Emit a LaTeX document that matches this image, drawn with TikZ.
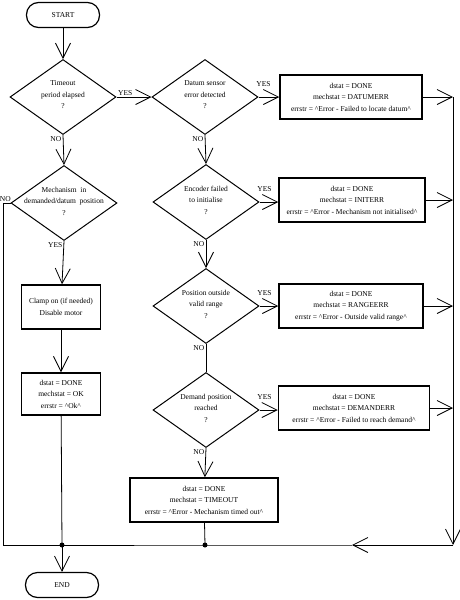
\documentclass[tikz,border=0pt]{standalone}
\usepackage{fontspec}
\setmainfont{Liberation Serif}
\usetikzlibrary{shapes.geometric,arrows.meta}

\begin{document}
\begin{tikzpicture}[x=1pt, y=-1pt,
  txt/.style={align=center, font=\fontsize{7.5pt}{11.5pt}\selectfont},
  decision/.style={draw, diamond, line width=1pt, aspect=1.41, minimum width=106pt, minimum height=75pt, inner sep=0pt},
  action/.style={draw, rectangle, line width=1.5pt, minimum height=44pt, txt},
  terminal/.style={draw, rectangle, rounded corners=12pt, line width=1.2pt, minimum width=73pt, minimum height=25pt, txt},
  lbl/.style={font=\fontsize{7.5pt}{9pt}\selectfont, inner sep=1.5pt},
  yes/.style={lbl, anchor=south, xshift=5pt, yshift=9pt},
  link/.style={line width=.8pt},
  arr/.style={link, -{Straight Barb[length=15pt, width=15pt, line width=.8pt]}},
  junction/.style={circle, fill, inner sep=0pt, minimum size=5pt}]
\useasboundingbox (0, 0) rectangle (460, 600);

\newcommand\question[3]{%
\node (#1) at (#2) [decision] {};%
\node at ([yshift=2pt]#1.center) [txt] {#3};%
}
\newcommand\caret{\textasciicircum}

\node (start) at (63, 15) [terminal] {START};
\question{timeout}{63, 97}{Timeout\\period elapsed\\?}
\question{inpos}{64, 203}{Mechanism\ \ in\\demanded/datum\ \ position\\?}
\node (clamp) at (61, 307) [action, minimum width=79pt] {Clamp on (if needed)\\Disable motor};
\node (ok) at (61, 394) [action, minimum width=79pt, minimum height=42pt] {dstat = DONE\\mechstat = OK\\errstr = \caret Ok\caret};
\node (end) at (62, 585) [terminal] {END};

\question{datum}{205, 97}{Datum sensor\\error detected\\?}
\question{encoder}{206, 202}{Encoder failed\\to initialise\\?}
\question{range}{206, 306}{Position outside\\valid range\\?}
\question{demand}{206, 410}{Demand position\\reached\\?}
\node (timedout) at (204, 500) [action, minimum width=148pt] {dstat = DONE\\mechstat = TIMEOUT\\errstr = \caret Error - Mechanism timed out\caret};

\node (datumerr) at (351, 97) [action, minimum width=142pt] {dstat = DONE\\mechstat = DATUMERR\\errstr = \caret Error - Failed to locate datum\caret};
\node (initerr) at (352, 200) [action, minimum width=146pt] {dstat = DONE\\mechstat = INITERR\\errstr = \caret Error - Mechanism not initialised\caret};
\node (rangeerr) at (351, 306) [action, minimum width=144pt] {dstat = DONE\\mechstat = RANGEERR\\errstr = \caret Error - Outside valid range\caret};
\node (demanderr) at (354, 408) [action, minimum width=151pt] {dstat = DONE\\mechstat = DEMANDERR\\errstr = \caret Error - Failed to reach demand\caret};

\node (jleft) at (62, 545) [junction] {};
\node (jmid) at (205, 545) [junction] {};
\coordinate (corner) at (3, 545);
\coordinate (bustop) at (453, 97);
\coordinate (busend) at (453, 545);
\coordinate (back) at (352, 545);

% left column
\draw [arr] (start) -- (timeout.north);
\draw [arr] (timeout.south) -- (inpos.north);
\draw [arr] (inpos.south) -- (clamp);
\draw [arr] (clamp) -- (ok);
\draw [link] (ok) -- (jleft.center);
\draw [arr] (jleft.center) -- (end);
\draw [link] (inpos.west) -| (corner) -- (jleft.center);

% middle column
\draw [arr] (timeout.east) -- (datum.west);
\draw [arr] (datum.south) -- (encoder.north);
\draw [arr] (encoder.south) -- (range.north);
\draw [link] (range.south) -- (demand.north);
\draw [arr] (demand.south) -- (timedout);
\draw [link] (timedout) -- (jmid.center);

% errors
\draw [arr] (datum.east) -- (datumerr);
\draw [arr] (encoder.east) -- (initerr.west |- encoder.east);
\draw [arr] (range.east) -- (rangeerr.west |- range.east);
\draw [arr] (demand.east) -- (demanderr.west |- demand.east);
\draw [arr] (datumerr.east) -- (bustop);
\draw [arr] (initerr.east) -- (initerr.east -| bustop);
\draw [arr] (rangeerr.east) -- (rangeerr.east -| bustop);
\draw [arr] (demanderr.east) -- (demanderr.east -| bustop);
\draw [arr] (bustop) -- (busend);
\draw [arr] (busend) -- (back);
\draw [link] (back) -- (jmid.center) -- (jleft.center);

\node at (timeout.east) [lbl, above right] {YES};
\node at (timeout.south) [lbl, below left] {NO};
\node at (inpos.west) [lbl, above left, xshift=2pt] {NO};
\node at (inpos.south) [lbl, below left] {YES};
\node at (datum.east) [yes] {YES};
\node at (datum.south) [lbl, below left] {NO};
\node at (encoder.east) [yes] {YES};
\node at (encoder.south) [lbl, below left] {NO};
\node at (range.east) [yes] {YES};
\node at (range.south) [lbl, below left] {NO};
\node at (demand.east) [yes] {YES};
\node at (demand.south) [lbl, below left] {NO};
\end{tikzpicture}
\end{document}
